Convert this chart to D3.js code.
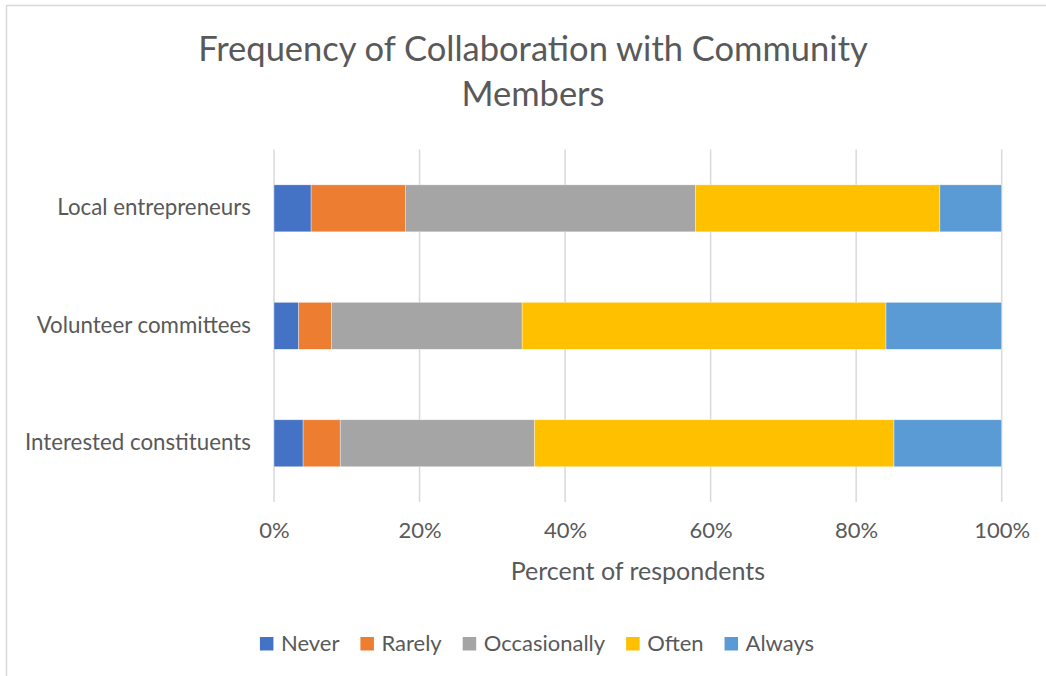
<!DOCTYPE html>
<html>
<head>
<meta charset="utf-8">
<script src="https://cdn.jsdelivr.net/npm/d3@7"></script>
<style>
  html, body { margin: 0; padding: 0; background: #fff; }
  svg { display: block; font-family: Lato, "Open Sans", sans-serif; }
</style>
</head>
<body>
<svg id="chart" width="1046" height="676"></svg>
<script>
// Categories, listed top to bottom
const categories = ["Local entrepreneurs", "Volunteer committees", "Interested constituents"];
// Response levels, stacked left to right
const levels = ["Never", "Rarely", "Occasionally", "Often", "Always"];
// Percent of respondents per category, one array per response level
const never        = [5.1, 3.4, 4.0];
const rarely       = [13.0, 4.5, 5.1];
const occasionally = [39.8, 26.2, 26.7];
const often        = [33.6, 50.0, 49.4];
const always       = [8.5, 15.9, 14.8];
const tickValues = [0, 20, 40, 60, 80, 100];
const tickLabels = ["0%", "20%", "40%", "60%", "80%", "100%"];
const colors = ["#4472C4", "#ED7D31", "#A5A5A5", "#FFC000", "#5B9BD5"];

const rows = categories.map((c, i) => ({
  category: c,
  Never: never[i], Rarely: rarely[i], Occasionally: occasionally[i],
  Often: often[i], Always: always[i]
}));

const svg = d3.select("#chart");
const textColor = "#595959";
const gridColor = "#D9D9D9";

// Chart frame
svg.append("rect")
  .attr("x", 6.5).attr("y", 5.5)
  .attr("width", 1100).attr("height", 700)
  .attr("fill", "#fff").attr("stroke", gridColor).attr("stroke-width", 1.5);

// Title
const title = svg.append("text")
  .attr("text-anchor", "middle")
  .attr("fill", textColor)
  .attr("font-size", 34.5);
title.append("tspan").attr("x", 533).attr("y", 61).text("Frequency of Collaboration with Community");
title.append("tspan").attr("x", 533).attr("y", 106).text("Members");

const x = d3.scaleLinear().domain([0, 100]).range([274, 1001.7]);
const y = d3.scaleBand().domain(categories).range([149.6, 502])
  .paddingInner(0.6).paddingOuter(0.3);

// Vertical gridlines
svg.append("g")
  .selectAll("line")
  .data(tickValues)
  .join("line")
  .attr("x1", d => x(d)).attr("x2", d => x(d))
  .attr("y1", y.range()[0]).attr("y2", y.range()[1])
  .attr("stroke", gridColor).attr("stroke-width", 1.5);

// Stacked bars
const series = d3.stack().keys(levels)(rows);
svg.append("g")
  .selectAll("g")
  .data(series)
  .join("g")
  .attr("fill", (d, i) => colors[i])
  .selectAll("rect")
  .data(d => d)
  .join("rect")
  .attr("x", d => x(d[0]))
  .attr("width", d => x(d[1]) - x(d[0]))
  .attr("y", d => y(d.data.category))
  .attr("height", y.bandwidth())
  .attr("stroke", "#ffffff").attr("stroke-width", 0.6).attr("stroke-opacity", 0.6);

// X axis tick labels
const xAxis = d3.axisBottom(x)
  .tickValues(tickValues)
  .tickFormat((d, i) => tickLabels[i])
  .tickSize(0).tickPadding(0);
const gx = svg.append("g").attr("transform", "translate(0,522)").call(xAxis);
gx.select(".domain").remove();
gx.selectAll("text")
  .attr("fill", textColor)
  .attr("font-size", 22)
  .attr("font-family", "Lato, 'Open Sans', sans-serif");

// Y axis category labels
const yAxis = d3.axisLeft(y).tickSize(0).tickPadding(0);
const gy = svg.append("g").attr("transform", "translate(251,0)").call(yAxis);
gy.select(".domain").remove();
gy.selectAll("text")
  .attr("fill", textColor)
  .attr("font-size", 22.3)
  .attr("font-family", "Lato, 'Open Sans', sans-serif");

// Axis title
svg.append("text")
  .attr("x", (x.range()[0] + x.range()[1]) / 2)
  .attr("y", 580)
  .attr("text-anchor", "middle")
  .attr("fill", textColor)
  .attr("font-size", 25)
  .text("Percent of respondents");

// Legend
const legend = svg.append("g");
const gap = 21;
let cursor = 0;
levels.forEach((lv, i) => {
  const item = legend.append("g").attr("transform", `translate(${cursor},0)`);
  item.append("rect")
    .attr("x", 0).attr("y", -14).attr("width", 13.5).attr("height", 13.5)
    .attr("fill", colors[i]);
  const t = item.append("text")
    .attr("x", 21).attr("y", 0)
    .attr("fill", textColor)
    .attr("font-size", 22)
    .text(lv);
  cursor += 21 + t.node().getComputedTextLength() + gap;
});
const legendWidth = cursor - gap;
legend.attr("transform", `translate(${537 - legendWidth / 2},651)`);
</script>
</body>
</html>
